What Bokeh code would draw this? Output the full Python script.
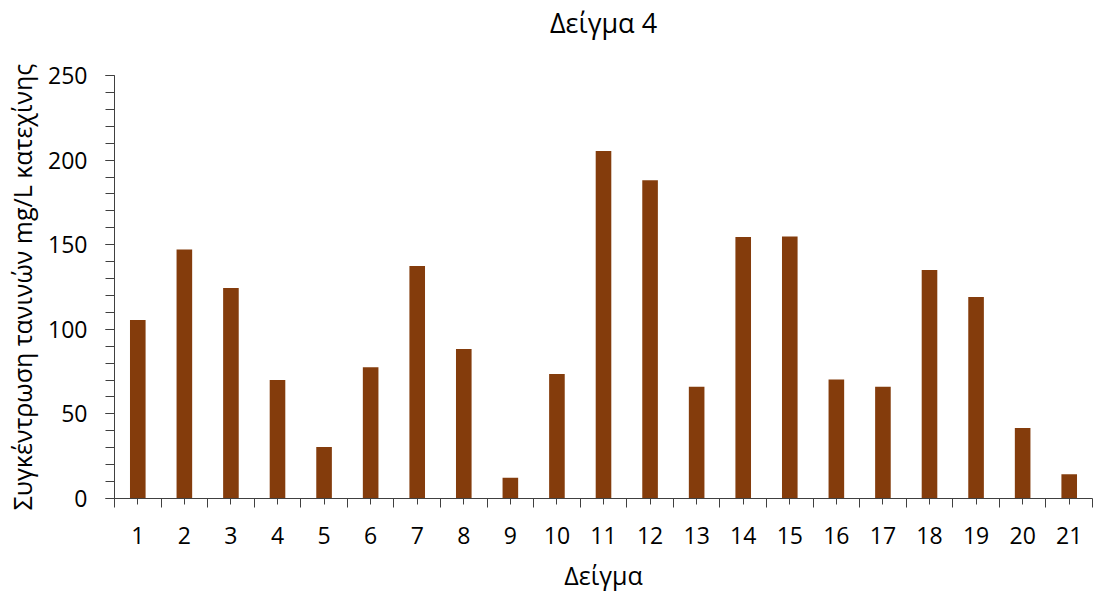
from bokeh.plotting import figure
from bokeh.models import Range1d, FixedTicker, SingleIntervalTicker, ColumnDataSource, Title
from bokeh.embed import file_html
from bokeh.resources import INLINE

samples = list(range(1, 22))
tannins = [105.5, 147.1, 124.4, 70.0, 30.4, 77.5, 137.4, 88.3, 12.2, 73.6,
           205.4, 188.1, 66.1, 154.6, 154.8, 70.4, 66.1, 135.1, 119.1, 41.6, 14.4]
tick_labels = [str(s) for s in samples]

title_text = "Δείγμα 4"
x_label = "Δείγμα"
y_label = "Συγκέντρωση τανινών mg/L κατεχίνης"

FONT = "Open Sans"
src = ColumnDataSource(dict(x=samples, top=tannins))

p = figure(width=1093, height=594, output_backend="svg", toolbar_location=None,
           x_range=Range1d(0.5, len(samples) + 0.5), y_range=Range1d(0, 250),
           min_border_left=114, min_border_right=1, min_border_top=75, min_border_bottom=96,
           title=title_text)
p.vbar(x="x", top="top", width=0.335, source=src, fill_color="#843C0C", line_color=None)

# spacer panel between frame and title
p.add_layout(Title(text=" ", text_font_size="2px", standoff=31), "above")

p.title.align = "center"
p.title.text_font = FONT
p.title.text_font_size = "27px"
p.title.text_font_style = "normal"
p.title.text_color = "#000000"
p.title.standoff = 0

p.xgrid.visible = False
p.ygrid.visible = False
p.outline_line_color = None

xa = p.xaxis[0]
xa.ticker = FixedTicker(ticks=samples, minor_ticks=[s - 0.5 for s in samples] + [len(samples) + 0.5])
xa.major_label_overrides = {s: lbl for s, lbl in zip(samples, tick_labels)}
xa.axis_label = x_label
ya = p.yaxis[0]
ya.ticker = SingleIntervalTicker(interval=50, num_minor_ticks=5)
ya.axis_label = y_label

for ax in (xa, ya):
    ax.axis_line_color = "#404040"
    ax.major_tick_line_color = "#404040"
    ax.minor_tick_line_color = "#404040"
    ax.major_tick_in = 0
    ax.minor_tick_in = 0
    ax.major_label_text_font = FONT
    ax.major_label_text_font_size = "23px"
    ax.major_label_text_color = "#000000"
    ax.axis_label_text_font = FONT
    ax.axis_label_text_font_size = "25px"
    ax.axis_label_text_font_style = "normal"
    ax.axis_label_text_color = "#000000"

xa.major_tick_out = 6
xa.minor_tick_out = 9
xa.major_label_standoff = 19
xa.axis_label_standoff = 11
ya.major_tick_out = 9
ya.minor_tick_out = 9
ya.major_label_standoff = 18
ya.axis_label_standoff = 6

open("out.html", "w").write(file_html(p, INLINE))
